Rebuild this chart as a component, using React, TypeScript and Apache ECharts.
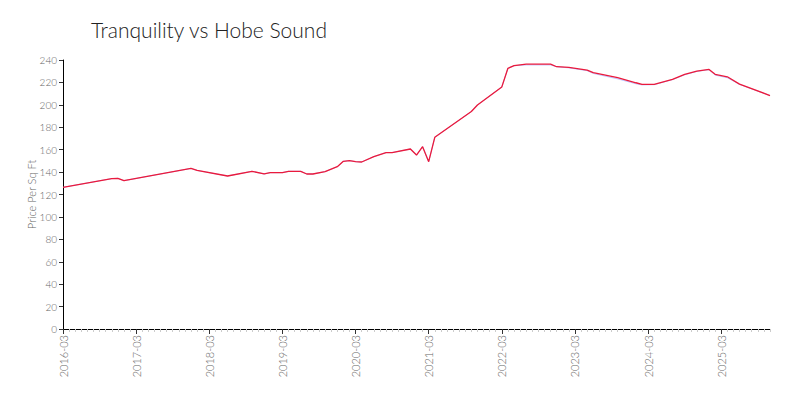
import React, { useEffect, useRef } from "react";
import * as echarts from "echarts";

const startYear = 2016;
const startMonth = 3;
const monthCount = 117;

const months: string[] = [];
for (let i = 0; i < monthCount; i++) {
  const m = startMonth - 1 + i;
  const y = startYear + Math.floor(m / 12);
  const mm = (m % 12) + 1;
  months.push(`${y}-${mm < 10 ? "0" + mm : mm}`);
}

// key observations: [month index, value]
const tranquilityPoints: [number, number][] = [
  [0, 126.4], [8, 134.2], [9, 134.4], [10, 132.3], [21, 143.3], [22, 141.5], [27, 136.5],
  [31, 140.7], [33, 138.3], [34, 139.5], [36, 139.5], [37, 140.7], [39, 140.7],
  [40, 138.3], [41, 138.3], [43, 140.4], [45, 144.8], [46, 149.6], [47, 150.2],
  [48, 149.3], [49, 149.0], [51, 153.8], [53, 157.4], [54, 157.4], [57, 160.6],
  [58, 155.2], [59, 162.7], [60, 149.3], [61, 171.0], [67, 194.0], [68, 199.8],
  [72, 216.0], [73, 232.6], [74, 234.9], [76, 236.4], [80, 236.4], [81, 234.0],
  [83, 233.4], [86, 231.0], [87, 228.7], [91, 224.2], [94, 219.7], [95, 218.3],
  [97, 218.3], [100, 222.7], [102, 227.1], [104, 230.1], [106, 231.6], [107, 227.2],
  [109, 225.0], [111, 218.5], [116, 208.3],
];

const hobePoints: [number, number][] = [
  [0, 126.4], [8, 134.2], [9, 134.4], [10, 132.3], [21, 143.3], [22, 141.5], [27, 136.5],
  [31, 140.7], [33, 138.3], [34, 139.5], [36, 139.5], [37, 140.7], [39, 140.7],
  [40, 138.3], [41, 138.3], [43, 140.4], [45, 144.8], [46, 149.6], [47, 150.2],
  [48, 149.3], [49, 149.0], [51, 153.8], [53, 157.4], [54, 157.4], [57, 160.6],
  [58, 155.2], [59, 162.7], [60, 149.3], [61, 171.0], [67, 194.0], [68, 199.8],
  [72, 216.0], [73, 232.6], [74, 234.9], [76, 235.6], [80, 235.6], [81, 234.0],
  [83, 233.0], [86, 230.5], [87, 228.0], [91, 223.2], [94, 218.8], [95, 217.8],
  [97, 218.0], [100, 222.5], [102, 226.8], [104, 229.8], [106, 231.4], [107, 226.5],
  [109, 224.2], [111, 218.2], [116, 208.3],
];

const yTicks = { min: 0, max: 240, interval: 20 };

function toSeries(points: [number, number][]): (number | null)[] {
  const arr: (number | null)[] = new Array(monthCount).fill(null);
  points.forEach(([i, v]) => {
    arr[i] = v;
  });
  return arr;
}

const FONT = "Lato";

export default function App() {
  const ref = useRef<HTMLDivElement>(null);
  useEffect(() => {
    if (!ref.current) return;
    const chart = echarts.init(ref.current, null, { renderer: "svg" });
    const labelInterval = (i: number) => i % 12 === 0;
    chart.setOption({
      animation: false,
      title: {
        text: "Tranquility vs Hobe Sound",
        left: 78,
        top: 6,
        textStyle: { fontFamily: FONT, fontWeight: 300, fontSize: 21, color: "#222" },
      },
      grid: { left: 55, right: 22, top: 52, bottom: 71, containLabel: false },
      xAxis: [
        {
          type: "category",
          data: months,
          boundaryGap: false,
          axisLine: { lineStyle: { color: "#000", width: 1 } },
          axisTick: { show: true, interval: 0, length: 3, lineStyle: { color: "#ccc" } },
          axisLabel: { show: false },
          splitLine: { show: false },
        },
        {
          type: "category",
          data: months,
          boundaryGap: false,
          position: "bottom",
          axisLine: { show: false },
          axisTick: { show: true, interval: labelInterval, length: 5, lineStyle: { color: "#333" } },
          axisLabel: {
            interval: labelInterval,
            rotate: 90,
            color: "#666",
            fontFamily: FONT,
            fontWeight: 300,
            fontSize: 11,
            margin: 6,
          },
          splitLine: { show: false },
        },
      ],
      yAxis: {
        type: "value",
        min: yTicks.min,
        max: yTicks.max,
        interval: yTicks.interval,
        name: "Price Per Sq Ft",
        nameLocation: "middle",
        nameGap: 26,
        nameMoveOverlap: false,
        nameTextStyle: { color: "#666", fontFamily: FONT, fontWeight: 300, fontSize: 11 },
        axisLine: { show: true, lineStyle: { color: "#000" } },
        axisTick: { show: true, length: 4, lineStyle: { color: "#333" } },
        axisLabel: { color: "#666", fontFamily: FONT, fontWeight: 300, fontSize: 10, margin: 6 },
        splitLine: { show: false },
      },
      series: [
        {
          name: "Hobe Sound",
          type: "line",
          data: toSeries(hobePoints),
          connectNulls: true,
          showSymbol: false,
          symbol: "none",
          lineStyle: { color: "#aab2ff", width: 1, opacity: 0.8 },
          z: 1,
        },
        {
          name: "Tranquility",
          type: "line",
          data: toSeries(tranquilityPoints),
          connectNulls: true,
          showSymbol: false,
          symbol: "none",
          lineStyle: { color: "#ea1a3c", width: 1.3 },
          z: 2,
        },
      ],
    });
    return () => chart.dispose();
  }, []);
  return <div ref={ref} style={{ width: 784, height: 392 }} />;
}
